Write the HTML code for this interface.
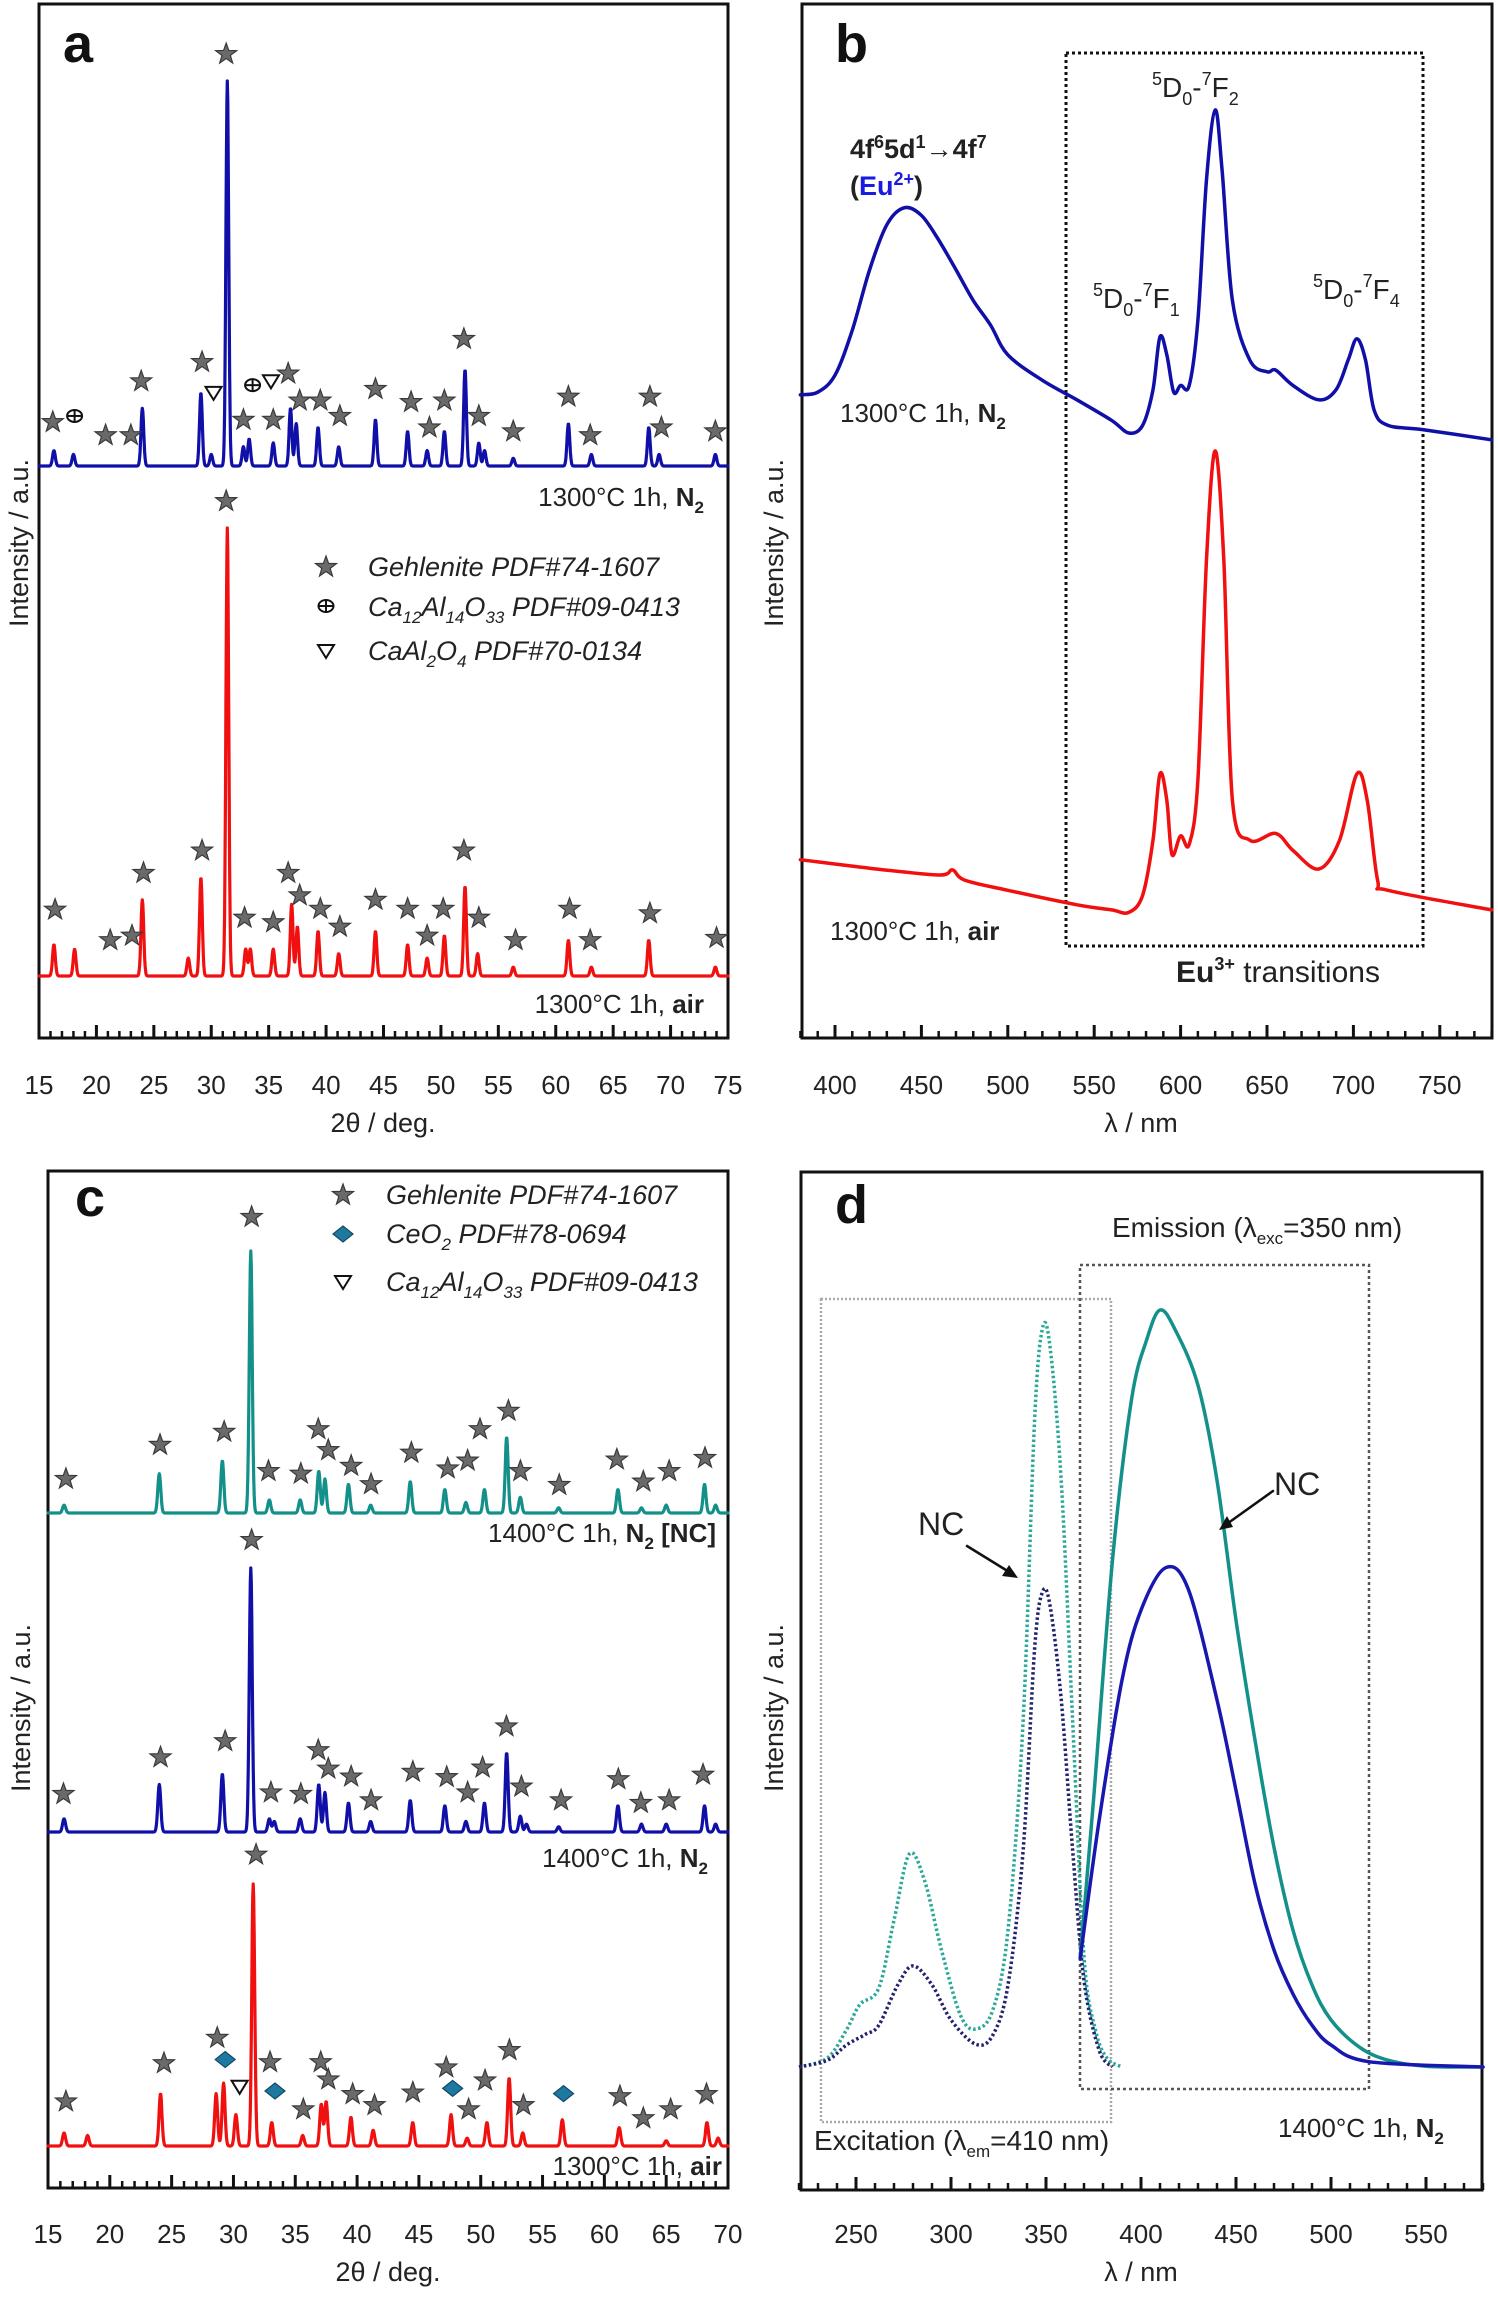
<!DOCTYPE html>
<html><head><meta charset="utf-8"><style>
html,body{margin:0;padding:0;background:#fff;}
svg{display:block;font-family:"Liberation Sans",Arial,sans-serif;}
</style></head><body>
<svg id="fig" width="1498" height="2303" viewBox="0 0 1498 2303" xmlns="http://www.w3.org/2000/svg">
<defs>
<path id="star" d="M0,-11 L2.6,-3.6 L10.5,-3.4 L4.2,1.4 L6.5,9 L0,4.5 L-6.5,9 L-4.2,1.4 L-10.5,-3.4 L-2.6,-3.6 Z" fill="#6a6a6a" stroke="#3a3a3a" stroke-width="1.2"/>
</defs>
<g id="pa"></g>
<g id="pb"></g>
<g id="pc"></g>
<g id="pd"></g>
</svg>
<script>
// ===== Panel a data =====
const aN2Peaks = [16.3,18,24,29.1,30,31.4,32.8,33.3,35.4,36.9,37.4,39.3,41.1,44.3,47.1,48.8,50.3,52.1,53.3,53.8,56.3,61.1,63.1,68.1,69,73.9];
const aN2Heights = [0.04,0.03,0.15,0.19,0.03,1.0,0.05,0.07,0.06,0.15,0.11,0.1,0.05,0.12,0.09,0.04,0.09,0.25,0.06,0.04,0.02,0.11,0.03,0.1,0.03,0.03];
const aAirPeaks = [16.3,18.1,24,28,29.1,31.4,33,33.4,35.4,37,37.5,39.3,41.1,44.3,47.1,48.8,50.3,52.1,53.2,56.3,61.1,63.1,68.1,73.9];
const aAirHeights = [0.07,0.06,0.17,0.04,0.22,1.0,0.06,0.06,0.06,0.16,0.11,0.1,0.05,0.1,0.07,0.04,0.09,0.2,0.05,0.02,0.08,0.02,0.08,0.02];
const aN2StarPos = [16.2,20.8,23.0,23.9,29.2,31.3,32.8,35.4,36.7,37.7,39.5,41.2,44.3,47.4,49.0,50.3,52.0,53.3,56.3,61.1,63.0,68.2,69.2,73.9];
const aN2StarH = [0.114,0.08,0.08,0.22,0.27,1.07,0.12,0.12,0.24,0.17,0.17,0.13,0.2,0.166,0.1,0.17,0.33,0.13,0.09,0.18,0.08,0.18,0.1,0.09];
const aN2CrossPos = [18.1,33.6]; const aN2CrossH = [0.13,0.21];
const aN2TriPos = [30.2,35.2]; const aN2TriH = [0.19,0.22];
const aAirStarPos = [16.4,21.2,23.1,24.1,29.2,31.3,32.9,35.4,36.7,37.7,39.5,41.2,44.3,47.1,48.8,50.2,52.0,53.3,56.5,61.2,63.0,68.2,74.0];
const aAirStarH = [0.148,0.08,0.09,0.23,0.28,1.06,0.13,0.12,0.23,0.18,0.15,0.11,0.17,0.15,0.09,0.15,0.28,0.13,0.08,0.15,0.08,0.14,0.085];
const aTicks = [15,20,25,30,35,40,45,50,55,60,65,70,75];

// ===== Panel c data =====
const cTealPeaks = [16.3,24,29.1,31.4,32.9,35.4,36.9,37.4,39.3,41.1,44.3,47.1,48.8,50.3,52.1,53.2,56.3,61.1,63,65,68.1,69];
const cTealHeights = [0.03,0.15,0.2,1.0,0.05,0.05,0.16,0.13,0.11,0.03,0.12,0.09,0.04,0.09,0.29,0.06,0.02,0.09,0.02,0.03,0.11,0.03];
const cBluePeaks = [16.3,24,29.1,31.4,32.9,33.3,35.4,36.9,37.4,39.3,41.1,44.3,47.1,48.8,50.3,52.1,53.2,53.7,56.3,61.1,63,65,68.1,69];
const cBlueHeights = [0.05,0.18,0.22,1.0,0.05,0.04,0.05,0.18,0.15,0.11,0.04,0.12,0.1,0.04,0.11,0.3,0.06,0.03,0.02,0.1,0.03,0.03,0.1,0.03];
const cRedPeaks = [16.3,18.2,24.1,28.6,29.2,30.2,31.6,33.1,35.6,37.1,37.5,39.5,41.3,44.5,47.6,48.9,50.5,52.3,53.4,56.6,61.2,65,68.3,69.2];
const cRedHeights = [0.05,0.04,0.2,0.2,0.24,0.12,1.0,0.09,0.04,0.16,0.17,0.11,0.06,0.09,0.12,0.03,0.09,0.26,0.05,0.1,0.07,0.02,0.09,0.03];
const cTealStarPos = [16.45,24.06,29.25,31.47,32.83,35.45,36.86,37.67,39.52,41.13,44.39,47.33,48.94,49.94,52.24,53.21,56.35,61.01,63.15,65.24,68.14];
const cTealStarH = [0.13,0.26,0.31,1.13,0.16,0.15,0.32,0.24,0.18,0.11,0.23,0.17,0.2,0.32,0.39,0.16,0.107,0.204,0.12,0.16,0.21];
const cBlueStarPos = [16.25,24.1,29.33,31.47,33.03,35.45,36.86,37.67,39.52,41.13,44.51,47.25,48.94,50.15,52.08,53.29,56.5,61.13,62.95,65.24,67.98];
const cBlueStarH = [0.144,0.283,0.344,1.106,0.15,0.144,0.31,0.24,0.21,0.12,0.228,0.208,0.15,0.244,0.4,0.172,0.12,0.2,0.11,0.12,0.217];
const cRedStarPos = [16.45,24.38,28.69,31.83,32.96,35.65,37.06,37.67,39.64,41.41,44.51,47.21,49.02,50.35,52.32,53.45,61.26,63.15,65.36,68.26];
const cRedStarH = [0.17,0.316,0.413,1.112,0.32,0.14,0.32,0.254,0.198,0.156,0.204,0.3,0.14,0.25,0.366,0.156,0.19,0.106,0.14,0.198];
const cRedDiamondPos = [29.33,33.36,47.73,56.7]; const cRedDiamondH = [0.33,0.21,0.22,0.2];
const cRedTriPos = [30.5]; const cRedTriH = [0.226];
const cTicks = [15,20,25,30,35,40,45,50,55,60,65,70];

// ===== Panel b data =====
const bBlueNm = [380,390,400,410,420,430,440,450,460,470,480,490,500,520,540,560,570,578,584,588,592,596,600,605,610,615,620,624,630,640,650,655,665,680,690,697,702,707,712,720,740,780];
const bBlueI = [66.5,66.8,68.8,74.1,81.2,86.5,88.5,87.6,84.7,81.2,77.6,74.7,71.2,68.2,65.9,63.5,62.0,62.9,67.1,73.3,71.2,66.8,67.6,67.6,75.3,91.8,100,92.9,77.6,70.6,69.2,69.4,67.6,65.9,67.1,70.6,73.1,70.6,64.7,62.9,62.4,61.2];
const bRedNm = [380,420,460,468,475,500,540,560,570,578,584,588,592,595,600,605,610,615,620,625,630,640,655,665,680,692,702,708,714,720,780];
const bRedI = [11.8,10.8,10,10.6,9.4,8.2,6.5,5.9,5.6,7.6,14.1,21.9,18.8,12.4,14.6,13.6,21.2,47.1,59.9,47.1,18.8,14.1,14.9,12.9,10.7,14.1,21.9,18.8,9.4,8.2,5.9];
const bTicks = [400,450,500,550,600,650,700,750];

// ===== Panel d data =====
const dExcNm = [220,235,245,252,262,270,278,286,295,305,313,322,330,338,344,348,352,358,364,370,376,382,390];
const dExcTeal = [0,1.2,4.9,8.2,10.4,19.3,28.0,24.6,15.4,6.8,5.0,7.5,18.0,45.7,85.1,97.0,95.0,77.2,45.7,14.5,4.9,1.2,0];
const dExcBlueNm = [220,235,245,255,262,272,280,290,300,313,322,330,338,344,348,352,358,364,370,378,385];
const dExcBlue = [0,0.9,2.9,4.3,5.5,10.8,13.3,10.8,6.2,3.0,4.2,10.8,28.6,55.0,62.4,60.9,48.4,28.6,11.4,2.2,0];
const dEmTealNm = [368,375,385,395,403,410,418,430,440,450,460,470,480,490,500,515,530,550,580];
const dEmTeal = [14.3,35.1,66.7,87.8,95.7,99.6,97.0,89.7,77.2,58.8,43.0,28.9,18.0,10.8,6.2,2.6,0.9,0.1,0];
const dEmBlueNm = [368,378,390,400,413,425,440,450,460,470,480,490,500,520,580];
const dEmBlue = [14.3,32.5,50.9,60.1,65.7,62.8,48.3,36.4,24.1,15.4,9.6,5.5,2.9,0.7,0];
const dTicks = [250,300,350,400,450,500,550];

const NS = "http://www.w3.org/2000/svg";
function mk(parent, tag, attrs){ const e=document.createElementNS(NS,tag); for(const k in attrs) e.setAttribute(k,attrs[k]); parent.appendChild(e); return e; }
function txt(parent, x, y, html, size, anchor, extra){ const t=mk(parent,'text',{x:x,y:y,'font-size':size,'text-anchor':anchor||'start'}); if(extra) for(const k in extra) t.setAttribute(k,extra[k]); t.innerHTML=html; return t; }

const xa = d => 39 + (d-15)*(689/60);
const yaN2 = f => 466 - f*385;
const yaAir = f => 976 - f*448;
const xc = d => 48 + (d-15)*(680/55);
const ycT = f => 1513 - f*262;
const ycB = f => 1832 - f*264;
const ycR = f => 2146 - f*262;
const xb = n => 835 + (n-400)*1.728;
const yb = v => 960 - v*8.5;
const xd = n => 856 + (n-250)*1.9;
const yd = v => 2067 - v*7.6;

function xrdPath(peaks, heights, x0, x1, xf, yf){
  let d='';
  for(let x=x0; x<=x1+1e-9; x+=0.04){
    let v=0;
    for(let i=0;i<peaks.length;i++){ const w=0.17; v+=heights[i]*Math.exp(-Math.pow((x-peaks[i])/w,2)); }
    d += (d?'L':'M') + xf(x).toFixed(1)+','+yf(v).toFixed(1);
  }
  return d;
}
function smoothPath(xs, vs, xf, yf){
  const p = xs.map((x,i)=>[xf(x), yf(vs[i])]);
  let d='M'+p[0][0].toFixed(1)+','+p[0][1].toFixed(1);
  for(let i=0;i<p.length-1;i++){
    const p0=p[Math.max(0,i-1)], p1=p[i], p2=p[i+1], p3=p[Math.min(p.length-1,i+2)];
    const c1=[p1[0]+(p2[0]-p0[0])/6, p1[1]+(p2[1]-p0[1])/6];
    const c2=[p2[0]-(p3[0]-p1[0])/6, p2[1]-(p3[1]-p1[1])/6];
    d+='C'+c1[0].toFixed(1)+','+c1[1].toFixed(1)+' '+c2[0].toFixed(1)+','+c2[1].toFixed(1)+' '+p2[0].toFixed(1)+','+p2[1].toFixed(1);
  }
  return d;
}
function frame(g, x0,y0,x1,y1){
  const r=mk(g,'rect',{x:x0,y:y0,width:x1-x0,height:y1-y0,fill:'none',stroke:'#111','stroke-width':3});
  
  
}
function xAxis(g, ticks, minorStep, xf, yAxis, lo, hi, labelY, title, titleX){
  for(let v=lo; v<=hi+1e-9; v+=minorStep){
    const major = ticks.some(t=>Math.abs(t-v)<1e-6);
    const l=mk(g,'line',{x1:xf(v),x2:xf(v),y1:yAxis,y2:yAxis-(major?13:7),stroke:'#111','stroke-width':major?3:2.5});
    
    
  }
  ticks.forEach(t=>{
    const e=txt(g, xf(t), labelY, String(t), 26, 'middle', {fill:'#222'});
    
    
  });
  const tt=txt(g, titleX, labelY+38, title, 27, 'middle', {fill:'#222'});
  
  
}
function yTitle(g, x, y){
  const t=txt(g, x, y, 'Intensity / a.u.', 27, 'middle', {transform:'rotate(-90 '+x+' '+y+')', fill:'#222'});
  
  
}
function line(g, d, color, w, name, dash){
  const p=mk(g,'path',{d:d,fill:'none',stroke:color,'stroke-width':w,'stroke-linejoin':'round','stroke-linecap':dash?'butt':'round'});
  if(dash) p.setAttribute('stroke-dasharray',dash);
  
  
  return p;
}
function stars(g, pos, hs, xf, yf){
  pos.forEach((p,i)=>{
    const u=mk(g,'use',{href:'#star',x:xf(p),y:yf(hs[i])});
    
    
  });
}
function crossCircle(g,x,y){
  const s=mk(g,'g',{});
  
  
  mk(s,'ellipse',{cx:x,cy:y,rx:7.5,ry:6,fill:'none',stroke:'#111','stroke-width':2});
  mk(s,'line',{x1:x-7.5,x2:x+7.5,y1:y,y2:y,stroke:'#111','stroke-width':2});
  mk(s,'line',{x1:x,x2:x,y1:y-6,y2:y+6,stroke:'#111','stroke-width':2});
}
function triangle(g,x,y){
  const t=mk(g,'path',{d:'M'+(x-8)+','+(y-6)+' L'+(x+8)+','+(y-6)+' L'+x+','+(y+7)+' Z',fill:'none',stroke:'#111','stroke-width':2});
  
  
}
function diamond(g,x,y){
  const t=mk(g,'path',{d:'M'+(x-10)+','+y+' L'+x+','+(y-8)+' L'+(x+10)+','+y+' L'+x+','+(y+8)+' Z',fill:'#1f78a0',stroke:'#124a66','stroke-width':1.2});
  
  
}
function panelLetter(g,x,y,s){
  const t=txt(g,x,y,s,54,'start',{'font-weight':'bold',fill:'#111'});
  
  
}
function label(g,x,y,html,anchor,size){
  const t=txt(g,x,y,html,size||26,anchor||'end',{fill:'#222'});
  
  
  return t;
}

// ===== Panel a =====
(function(){
  const g=document.getElementById('pa');
  frame(g,39,4,728,1038);
  xAxis(g,aTicks,1,xa,1038,15,75,1094,'2θ / deg.',383);
  yTitle(g,28,543);
  panelLetter(g,63,62,'a');
  line(g,xrdPath(aN2Peaks,aN2Heights,15,75,xa,yaN2),'#1010a8',3.2,'series-1300c-n2');
  line(g,xrdPath(aAirPeaks,aAirHeights,15,75,xa,yaAir),'#f01010',3.2,'series-1300c-air');
  stars(g,aN2StarPos,aN2StarH,xa,yaN2);
  stars(g,aAirStarPos,aAirStarH,xa,yaAir);
  aN2CrossPos.forEach((p,i)=>crossCircle(g,xa(p),yaN2(aN2CrossH[i])));
  aN2TriPos.forEach((p,i)=>triangle(g,xa(p),yaN2(aN2TriH[i])));
  label(g,704,506,'1300°C 1h, <tspan font-weight="bold">N<tspan font-size="17" dy="7">2</tspan></tspan>');
  label(g,704,1013,'1300°C 1h, <tspan font-weight="bold">air</tspan>');
  const lg=mk(g,'g',{});
  
  
  mk(lg,'use',{href:'#star',x:326,y:567});
  crossCircle(lg,326,606);
  triangle(lg,326,651);
  txt(lg,368,576,'Gehlenite PDF#74-1607',27,'start',{'font-style':'italic',fill:'#222'});
  txt(lg,368,616,'Ca<tspan font-size="17" dy="7">12</tspan><tspan dy="-7">Al</tspan><tspan font-size="17" dy="7">14</tspan><tspan dy="-7">O</tspan><tspan font-size="17" dy="7">33</tspan><tspan dy="-7"> PDF#09-0413</tspan>',27,'start',{'font-style':'italic',fill:'#222'});
  txt(lg,368,660,'CaAl<tspan font-size="17" dy="7">2</tspan><tspan dy="-7">O</tspan><tspan font-size="17" dy="7">4</tspan><tspan dy="-7"> PDF#70-0134</tspan>',27,'start',{'font-style':'italic',fill:'#222'});
})();

// ===== Panel b =====
(function(){
  const g=document.getElementById('pb');
  frame(g,802,4,1492,1038);
  xAxis(g,bTicks,10,xb,1038,380,780,1094,'λ / nm',1141);
  yTitle(g,783,543);
  panelLetter(g,835,62,'b');
  const box=mk(g,'rect',{x:1066,y:53,width:357,height:893,fill:'none',stroke:'#111','stroke-width':3,'stroke-dasharray':'3,3'});
  
  
  line(g,smoothPath(bBlueNm,bBlueI,xb,yb),'#1010a8',3.5,'series-1300c-n2');
  line(g,smoothPath(bRedNm,bRedI,xb,yb),'#f01010',3.5,'series-1300c-air');
  const s='font-size="18"';
  label(g,1152,97,'<tspan '+s+' dy="-12">5</tspan><tspan dy="12">D</tspan><tspan '+s+' dy="8">0</tspan><tspan dy="-8">-</tspan><tspan '+s+' dy="-12">7</tspan><tspan dy="12">F</tspan><tspan '+s+' dy="8">2</tspan>','start',28);
  label(g,1093,308,'<tspan '+s+' dy="-12">5</tspan><tspan dy="12">D</tspan><tspan '+s+' dy="8">0</tspan><tspan dy="-8">-</tspan><tspan '+s+' dy="-12">7</tspan><tspan dy="12">F</tspan><tspan '+s+' dy="8">1</tspan>','start',28);
  label(g,1313,299,'<tspan '+s+' dy="-12">5</tspan><tspan dy="12">D</tspan><tspan '+s+' dy="8">0</tspan><tspan dy="-8">-</tspan><tspan '+s+' dy="-12">7</tspan><tspan dy="12">F</tspan><tspan '+s+' dy="8">4</tspan>','start',28);
  label(g,850,158,'4f<tspan font-size="18" dy="-10">6</tspan><tspan dy="10">5d</tspan><tspan font-size="18" dy="-10">1</tspan><tspan dy="10">→4f</tspan><tspan font-size="18" dy="-10">7</tspan>','start',27).setAttribute('font-weight','bold');
  label(g,850,195,'(<tspan fill="#1a1ae0">Eu<tspan font-size="18" dy="-10">2+</tspan></tspan><tspan dy="10">)</tspan>','start',27).setAttribute('font-weight','bold');
  label(g,840,422,'1300°C 1h, <tspan font-weight="bold">N<tspan font-size="17" dy="7">2</tspan></tspan>','start');
  label(g,830,940,'1300°C 1h, <tspan font-weight="bold">air</tspan>','start');
  label(g,1176,982,'<tspan font-weight="bold">Eu<tspan font-size="18" dy="-12">3+</tspan></tspan><tspan dy="12"> transitions</tspan>','start',30);
})();

// ===== Panel c =====
(function(){
  const g=document.getElementById('pc');
  frame(g,48,1171,728,2188);
  xAxis(g,cTicks,1,xc,2188,15,70,2243,'2θ / deg.',388);
  yTitle(g,30,1708);
  panelLetter(g,75,1216,'c');
  line(g,xrdPath(cTealPeaks,cTealHeights,15,70,xc,ycT),'#14908a',3.2,'series-1400c-n2-nc');
  line(g,xrdPath(cBluePeaks,cBlueHeights,15,70,xc,ycB),'#1010a8',3.2,'series-1400c-n2');
  line(g,xrdPath(cRedPeaks,cRedHeights,15,70,xc,ycR),'#f01010',3.2,'series-1300c-air');
  stars(g,cTealStarPos,cTealStarH,xc,ycT);
  stars(g,cBlueStarPos,cBlueStarH,xc,ycB);
  stars(g,cRedStarPos,cRedStarH,xc,ycR);
  cRedDiamondPos.forEach((p,i)=>diamond(g,xc(p),ycR(cRedDiamondH[i])));
  cRedTriPos.forEach((p,i)=>triangle(g,xc(p),ycR(cRedTriH[i])));
  label(g,716,1542,'1400°C 1h, <tspan font-weight="bold">N<tspan font-size="17" dy="7">2</tspan><tspan dy="-7"> [NC]</tspan></tspan>');
  label(g,708,1867,'1400°C 1h, <tspan font-weight="bold">N<tspan font-size="17" dy="7">2</tspan></tspan>');
  label(g,722,2175,'1300°C 1h, <tspan font-weight="bold">air</tspan>');
  const lg=mk(g,'g',{});
  
  
  mk(lg,'use',{href:'#star',x:343,y:1195});
  diamond(lg,343,1234);
  triangle(lg,343,1282);
  txt(lg,386,1204,'Gehlenite PDF#74-1607',27,'start',{'font-style':'italic',fill:'#222'});
  txt(lg,386,1243,'CeO<tspan font-size="17" dy="7">2</tspan><tspan dy="-7"> PDF#78-0694</tspan>',27,'start',{'font-style':'italic',fill:'#222'});
  txt(lg,386,1291,'Ca<tspan font-size="17" dy="7">12</tspan><tspan dy="-7">Al</tspan><tspan font-size="17" dy="7">14</tspan><tspan dy="-7">O</tspan><tspan font-size="17" dy="7">33</tspan><tspan dy="-7"> PDF#09-0413</tspan>',27,'start',{'font-style':'italic',fill:'#222'});
})();

// ===== Panel d =====
(function(){
  const g=document.getElementById('pd');
  frame(g,801,1172,1482,2190);
  xAxis(g,dTicks,10,xd,2190,220,580,2243,'λ / nm',1141);
  yTitle(g,783,1708);
  panelLetter(g,835,1223,'d');
  const b1=mk(g,'rect',{x:821,y:1299,width:290,height:823,fill:'none',stroke:'#aaa','stroke-width':2.5,'stroke-dasharray':'2,2'});
  
  
  const b2=mk(g,'rect',{x:1080,y:1265,width:289,height:824,fill:'none',stroke:'#555','stroke-width':2.5,'stroke-dasharray':'3,3'});
  
  
  line(g,smoothPath(dExcNm,dExcTeal,xd,yd),'#2aa898',3.5,'excitation-nc','2.5,2.5');
  line(g,smoothPath(dExcBlueNm,dExcBlue,xd,yd),'#22226e',3.5,'excitation-n2','2.5,2.5');
  line(g,smoothPath(dEmTealNm,dEmTeal,xd,yd),'#14908a',3.5,'emission-nc');
  line(g,smoothPath(dEmBlueNm,dEmBlue,xd,yd),'#1818b0',3.5,'emission-n2');
  label(g,1112,1237,'Emission (λ<tspan font-size="17" dy="7">exc</tspan><tspan dy="-7">=350 nm)</tspan>','start',28);
  label(g,814,2150,'Excitation (λ<tspan font-size="17" dy="7">em</tspan><tspan dy="-7">=410 nm)</tspan>','start',28);
  label(g,1278,2137,'1400°C 1h, <tspan font-weight="bold">N<tspan font-size="17" dy="7">2</tspan></tspan>','start');
  label(g,918,1535,'NC','start',32);
  label(g,1274,1495,'NC','start',32);
  line(g,'M967,1546 L1014,1575','#111',2.5,'nc-arrow-excitation');
  mk(g,'path',{d:'M1018,1578 L1002,1576 L1009,1565 Z',fill:'#111'});
  line(g,'M1273,1491 L1224,1526','#111',2.5,'nc-arrow-emission');
  mk(g,'path',{d:'M1219,1530 L1227,1516 L1233,1527 Z',fill:'#111'});
})();
</script>
</body></html>
